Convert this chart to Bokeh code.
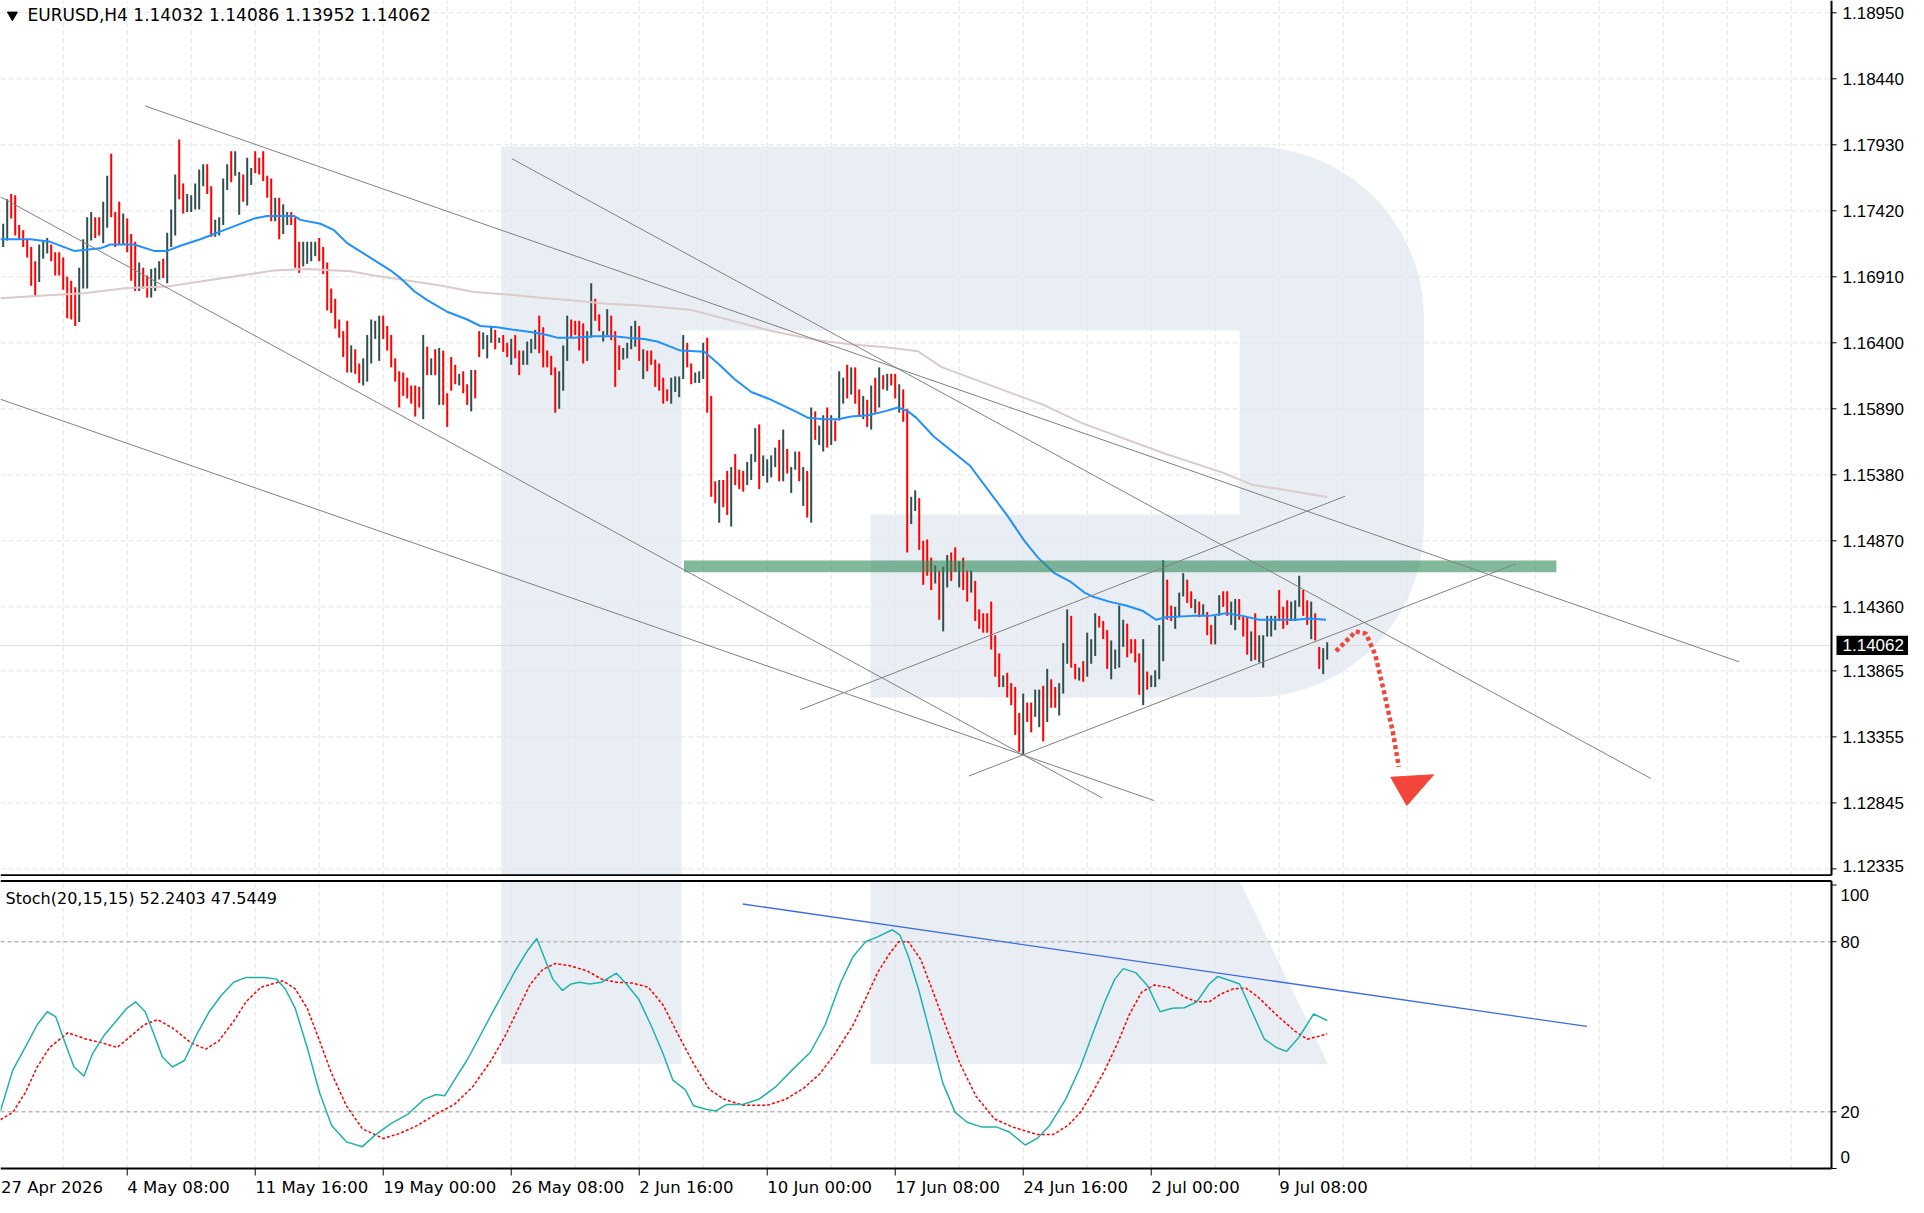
import numpy as np
from bokeh.plotting import figure
from bokeh.models import Range1d
from bokeh.layouts import column
from bokeh.embed import file_html
from bokeh.resources import INLINE
from bokeh.core.properties import value

# ---------------- data ----------------
symbol_title = "EURUSD,H4  1.14032 1.14086 1.13952 1.14062"
stoch_title = "Stoch(20,15,15) 52.2403 47.5449"
last_price = 1.14062
last_price_text = "1.14062"

bar_first = 1  # index of the first visible H4 bar (bar 0 = 27 Apr 2026 00:00)
bar_high = [
    1.1732, 1.1751, 1.1755, 1.1754, 1.1731, 1.1727, 1.1720, 1.1714, 1.1703, 1.1716,
    1.1719, 1.1721, 1.1716, 1.1710, 1.1710, 1.1706, 1.1691, 1.1688, 1.1683, 1.1698,
    1.1720, 1.1737, 1.1741, 1.1737, 1.1737, 1.1749, 1.1769, 1.1786, 1.1741, 1.1749,
    1.1740, 1.1736, 1.1724, 1.1718, 1.1702, 1.1698, 1.1692, 1.1697, 1.1698, 1.1703,
    1.1705, 1.1725, 1.1743, 1.1770, 1.1797, 1.1763, 1.1755, 1.1754, 1.1763, 1.1774,
    1.1778, 1.1778, 1.1761, 1.1735, 1.1737, 1.1767, 1.1778, 1.1788, 1.1788, 1.1772,
    1.1770, 1.1783, 1.1775, 1.1788, 1.1783, 1.1788, 1.1769, 1.1767, 1.1752, 1.1752,
    1.1747, 1.1741, 1.1741, 1.1737, 1.1718, 1.1718, 1.1718, 1.1718, 1.1718, 1.1721,
    1.1714, 1.1702, 1.1682, 1.1674, 1.1658, 1.1649, 1.1657, 1.1638, 1.1635, 1.1624,
    1.1628, 1.1646, 1.1658, 1.1657, 1.1661, 1.1661, 1.1653, 1.1646, 1.1628, 1.1618,
    1.1617, 1.1613, 1.1607, 1.1607, 1.1606, 1.1646, 1.1637, 1.1628, 1.1635, 1.1636,
    1.1634, 1.1601, 1.1629, 1.1623, 1.1616, 1.1618, 1.1608, 1.1619, 1.1619, 1.1649,
    1.1648, 1.1646, 1.1653, 1.1650, 1.1644, 1.1646, 1.1640, 1.1643, 1.1646, 1.1634,
    1.1634, 1.1641, 1.1643, 1.1650, 1.1661, 1.1652, 1.1634, 1.1630, 1.1621, 1.1618,
    1.1638, 1.1661, 1.1658, 1.1657, 1.1657, 1.1655, 1.1649, 1.1686, 1.1674, 1.1662,
    1.1649, 1.1666, 1.1661, 1.1649, 1.1638, 1.1636, 1.1640, 1.1653, 1.1657, 1.1653,
    1.1635, 1.1634, 1.1634, 1.1627, 1.1624, 1.1613, 1.1604, 1.1613, 1.1614, 1.1614,
    1.1646, 1.1640, 1.1624, 1.1617, 1.1618, 1.1640, 1.1644, 1.1599, 1.1533, 1.1534,
    1.1534, 1.1541, 1.1544, 1.1554, 1.1542, 1.1541, 1.1548, 1.1554, 1.1574, 1.1577,
    1.1553, 1.1550, 1.1553, 1.1559, 1.1565, 1.1573, 1.1558, 1.1544, 1.1556, 1.1556,
    1.1544, 1.1541, 1.1590, 1.1587, 1.1576, 1.1584, 1.1590, 1.1584, 1.1580, 1.1618,
    1.1613, 1.1623, 1.1621, 1.1621, 1.1604, 1.1599, 1.1596, 1.1607, 1.1613, 1.1621,
    1.1615, 1.1616, 1.1616, 1.1616, 1.1608, 1.1604, 1.1589, 1.1521, 1.1526, 1.1520,
    1.1487, 1.1488, 1.1474, 1.1468, 1.1464, 1.1467, 1.1476, 1.1478, 1.1482, 1.1471,
    1.1474, 1.1464, 1.1464, 1.1456, 1.1434, 1.1431, 1.1431, 1.1440, 1.1414, 1.1400,
    1.1383, 1.1385, 1.1377, 1.1374, 1.1354, 1.1369, 1.1362, 1.1362, 1.1372, 1.1372,
    1.1375, 1.1388, 1.1380, 1.1374, 1.1377, 1.1408, 1.1434, 1.1429, 1.1392, 1.1389,
    1.1394, 1.1416, 1.1411, 1.1431, 1.1429, 1.1425, 1.1418, 1.1410, 1.1403, 1.1437,
    1.1426, 1.1423, 1.1411, 1.1411, 1.1400, 1.1411, 1.1386, 1.1383, 1.1387, 1.1422,
    1.1472, 1.1457, 1.1437, 1.1436, 1.1447, 1.1462, 1.1457, 1.1448, 1.1442, 1.1440,
    1.1438, 1.1432, 1.1422, 1.1429, 1.1445, 1.1448, 1.1448, 1.1440, 1.1442, 1.1442,
    1.1429, 1.1428, 1.1417, 1.1431, 1.1414, 1.1414, 1.1429, 1.1429, 1.1429, 1.1449,
    1.1436, 1.1441, 1.1440, 1.1441, 1.1460, 1.1449, 1.1441, 1.1440, 1.1431, 1.1405,
    1.1404, 1.14086,
]
bar_low = [
    1.1714, 1.1719, 1.1736, 1.1723, 1.1720, 1.1714, 1.1706, 1.1684, 1.1676, 1.1687,
    1.1705, 1.1709, 1.1703, 1.1692, 1.1692, 1.1681, 1.1659, 1.1658, 1.1653, 1.1656,
    1.1682, 1.1682, 1.1719, 1.1721, 1.1723, 1.1717, 1.1729, 1.1737, 1.1714, 1.1716,
    1.1716, 1.1710, 1.1688, 1.1680, 1.1680, 1.1682, 1.1675, 1.1675, 1.1680, 1.1689,
    1.1690, 1.1686, 1.1714, 1.1723, 1.1751, 1.1740, 1.1741, 1.1741, 1.1743, 1.1743,
    1.1761, 1.1755, 1.1722, 1.1722, 1.1723, 1.1731, 1.1758, 1.1764, 1.1769, 1.1739,
    1.1749, 1.1746, 1.1762, 1.1771, 1.1770, 1.1765, 1.1752, 1.1734, 1.1734, 1.1720,
    1.1724, 1.1731, 1.1731, 1.1698, 1.1694, 1.1699, 1.1701, 1.1703, 1.1707, 1.1703,
    1.1693, 1.1665, 1.1663, 1.1651, 1.1644, 1.1629, 1.1617, 1.1617, 1.1616, 1.1609,
    1.1607, 1.1610, 1.1624, 1.1643, 1.1626, 1.1643, 1.1634, 1.1621, 1.1610, 1.1590,
    1.1599, 1.1597, 1.1593, 1.1583, 1.1590, 1.1581, 1.1615, 1.1615, 1.1615, 1.1592,
    1.1592, 1.1575, 1.1603, 1.1608, 1.1607, 1.1601, 1.1592, 1.1587, 1.1597, 1.1629,
    1.1635, 1.1628, 1.1640, 1.1635, 1.1640, 1.1633, 1.1629, 1.1623, 1.1628, 1.1615,
    1.1623, 1.1623, 1.1632, 1.1635, 1.1632, 1.1621, 1.1621, 1.1615, 1.1586, 1.1589,
    1.1603, 1.1626, 1.1644, 1.1646, 1.1634, 1.1624, 1.1626, 1.1644, 1.1657, 1.1649,
    1.1641, 1.1646, 1.1642, 1.1606, 1.1619, 1.1627, 1.1628, 1.1635, 1.1637, 1.1626,
    1.1612, 1.1618, 1.1623, 1.1606, 1.1603, 1.1593, 1.1595, 1.1593, 1.1602, 1.1598,
    1.1612, 1.1621, 1.1608, 1.1609, 1.1609, 1.1612, 1.1586, 1.1521, 1.1516, 1.1501,
    1.1513, 1.1507, 1.1498, 1.1530, 1.1527, 1.1525, 1.1530, 1.1534, 1.1548, 1.1527,
    1.1537, 1.1532, 1.1536, 1.1544, 1.1533, 1.1533, 1.1539, 1.1524, 1.1542, 1.1533,
    1.1514, 1.1505, 1.1501, 1.1565, 1.1561, 1.1556, 1.1559, 1.1561, 1.1564, 1.1580,
    1.1593, 1.1597, 1.1600, 1.1593, 1.1583, 1.1581, 1.1575, 1.1573, 1.1586, 1.1590,
    1.1604, 1.1603, 1.1607, 1.1597, 1.1586, 1.1579, 1.1478, 1.1500, 1.1510, 1.1480,
    1.1453, 1.1460, 1.1449, 1.1454, 1.1426, 1.1417, 1.1451, 1.1456, 1.1463, 1.1451,
    1.1449, 1.1440, 1.1447, 1.1425, 1.1419, 1.1416, 1.1416, 1.1403, 1.1382, 1.1374,
    1.1374, 1.1366, 1.1360, 1.1337, 1.1324, 1.1322, 1.1347, 1.1339, 1.1351, 1.1343,
    1.1332, 1.1347, 1.1358, 1.1358, 1.1352, 1.1369, 1.1392, 1.1389, 1.1380, 1.1379,
    1.1378, 1.1382, 1.1392, 1.1398, 1.1420, 1.1411, 1.1388, 1.1380, 1.1388, 1.1389,
    1.1405, 1.1397, 1.1400, 1.1393, 1.1368, 1.1360, 1.1372, 1.1374, 1.1374, 1.1380,
    1.1394, 1.1426, 1.1425, 1.1419, 1.1428, 1.1444, 1.1439, 1.1435, 1.1431, 1.1428,
    1.1429, 1.1414, 1.1407, 1.1407, 1.1429, 1.1436, 1.1429, 1.1422, 1.1418, 1.1426,
    1.1413, 1.1399, 1.1394, 1.1395, 1.1393, 1.1389, 1.1413, 1.1413, 1.1418, 1.1425,
    1.1419, 1.1422, 1.1425, 1.1425, 1.1436, 1.1429, 1.1422, 1.1411, 1.1410, 1.1388,
    1.1384, 1.13952,
]
# u = bullish bar, d = bearish bar
bar_dir = ("uudddddddu" "uudddddddu" "uuudduuddd" "udddudduuu" "duuudduuuu"
           "udduuuuduu" "duudddddud" "uuddduuuud" "dddddddudd" "uuuuuddddd"
           "dddddududu" "dddduddudd" "uuududdudd" "uuuudddddu" "uudddduudd"
           "uuddduuuud" "udddddduuu" "udduuudddu" "dduddduuud" "uuuududuud"
           "ududuududu" "ududdududu" "duddudduud" "ddduduuddu" "dduddddddd"
           "uddddudduu" "dudduuuddu" "duuuddduuu" "udddduduuu" "udduuuddud"
           "udduudduud" "dduduuuuud" "dduuuddudd" "uu")

# moving averages (bar index, price)
ma_fast_x = [0.3, 7.8, 12.8, 18.7, 25.3, 27.8, 33.7, 38.7, 42, 45.3, 50.3, 57, 63.7, 67, 73.7,
             75.3, 80.3, 83.7, 87, 97.8, 100.3, 103.7, 107, 112, 117, 120.3, 124.5, 128.7,
             133.7, 137, 139.5, 143.7, 148.7, 153.7, 157, 161.2, 164.5, 167.8, 170.3, 176.3,
             179.7, 183.8, 188, 192.2, 196.3, 199.7, 202.2, 206.3, 209.7, 213, 217.2, 221.3,
             224.7, 227.2, 229.3, 233.5, 242.7, 251.9, 256.3, 259.7, 263.8, 268, 271.3, 273.3,
             277.5, 281.7, 285.8, 289.2, 291.7, 298.3, 302.5, 306.7, 310.8, 315, 319.2, 324.2,
             327.5, 331.7]
ma_fast_y = [1.1720, 1.1720, 1.1718, 1.1711, 1.1713, 1.1716, 1.1716, 1.1711, 1.1711, 1.1715,
             1.1720, 1.1728, 1.1736, 1.1738, 1.1738, 1.1735, 1.1732, 1.1727, 1.1717, 1.1696,
             1.1690, 1.1680, 1.1673, 1.1664, 1.1658, 1.1653, 1.1652, 1.1650, 1.1648, 1.1646,
             1.1644, 1.1644, 1.1645, 1.1645, 1.1644, 1.1643, 1.1641, 1.1637, 1.1634, 1.1633,
             1.1624, 1.1612, 1.1602, 1.1597, 1.1591, 1.1586, 1.1582, 1.1581, 1.1581, 1.1583,
             1.1584, 1.1587, 1.1590, 1.1587, 1.1582, 1.1568, 1.1545, 1.1507, 1.1487, 1.1474,
             1.1462, 1.1455, 1.1447, 1.1444, 1.1440, 1.1437, 1.1433, 1.1426, 1.1428, 1.1429,
             1.1429, 1.1431, 1.1429, 1.1426, 1.1426, 1.1426, 1.1427, 1.1426]
ma_slow_x = [0.3, 11.2, 21.2, 32, 42, 50.3, 60.3, 68.7, 77, 87.8, 93.7, 102, 110.3, 118.7, 127,
             135.3, 143.7, 152, 160.3, 172.8, 193.3, 205, 213.3, 221.7, 229.7, 235.6, 261.1,
             270.7, 291.7, 305.7, 313.2, 332]
ma_slow_y = [1.16745, 1.16765, 1.16783, 1.16824, 1.16835, 1.16873, 1.16920, 1.16958, 1.16971,
             1.16953, 1.16920, 1.16882, 1.16843, 1.16792, 1.16773, 1.16748, 1.16727, 1.16701,
             1.16688, 1.16655, 1.16490, 1.16418, 1.16387, 1.16366, 1.16335, 1.16212, 1.15920,
             1.15779, 1.15541, 1.15399, 1.15304, 1.15209]

# stochastic (bar index, value)
stoch_main_x = [0.3, 3.4, 6.5, 9.5, 12.0, 14.1, 16.3, 18.7, 21.2, 23.3, 26.4, 29.5, 31.9, 34.1,
                36.5, 38.7, 40.8, 43.3, 46.3, 49.4, 52.5, 55.5, 58.6, 61.7, 66.3, 69.3, 71.5,
                74.0, 77.0, 80.1, 83.1, 86.8, 90.8, 93.9, 97.9, 102.2, 106.2, 109.2, 111.4,
                113.8, 116.9, 120.0, 123.0, 126.1, 129.2, 132.2, 134.4, 136.8, 138.4, 140.8,
                143.0, 145.1, 147.6, 150.6, 154.3, 156.8, 159.8, 162.9, 166.0, 168.4, 171.5,
                173.6, 176.7, 179.2, 181.9, 185.9, 189.9, 194.2, 198.2, 202.8, 206.5, 210.4,
                213.5, 216.6, 219.6, 223.3, 225.2, 227.3, 229.8, 232.8, 235.9, 239.0, 242.0,
                245.7, 249.4, 252.5, 256.5, 259.5, 262.6, 266.6, 270.3, 273.3, 276.4, 278.9,
                281.0, 284.1, 287.1, 290.2, 293.3, 296.3, 299.4, 302.5, 304.6, 307.1, 310.1,
                313.2, 316.3, 319.3, 321.8, 324.9, 328.6, 332.0]
stoch_main_y = [20.3, 34.7, 42.7, 50.7, 55.3, 53.6, 45.0, 35.8, 32.6, 40.4, 47.3, 52.5, 56.5, 58.8,
                55.3, 47.3, 39.3, 35.8, 38.1, 47.3, 55.3, 61.0, 65.7, 67.4, 67.4, 66.8, 63.4,
                56.5, 42.7, 26.7, 15.2, 9.4, 7.7, 11.7, 15.8, 19.2, 24.4, 26.1, 25.7, 31.2,
                38.1, 46.2, 54.2, 62.2, 70.2, 77.1, 81.1, 72.5, 66.8, 62.8, 65.1, 65.7, 65.1,
                65.7, 68.9, 65.1, 59.9, 50.7, 40.4, 31.2, 27.8, 22.1, 20.9, 20.3, 22.6, 22.6,
                24.4, 28.9, 34.7, 41.0, 50.7, 65.7, 74.8, 80.0, 81.7, 84.2, 82.3, 74.8, 63.4,
                47.3, 30.1, 19.8, 16.3, 14.6, 14.6, 12.9, 8.3, 10.6, 15.2, 24.4, 35.8, 47.3,
                58.8, 66.8, 70.5, 69.1, 64.5, 55.3, 56.5, 56.7, 58.8, 65.1, 67.7, 66.6, 65.1,
                55.3, 45.6, 42.7, 41.3, 46.2, 54.5, 52.2]
stoch_signal_x = [0.3, 3.4, 6.5, 9.5, 12.6, 17.2, 21.8, 25.5, 29.5, 32.5, 36.2, 39.6, 43.3, 47.9,
                  51.6, 54.9, 58.6, 61.7, 65.4, 70.9, 74.0, 77.0, 80.1, 83.1, 86.8, 90.8, 96.0,
                  100.0, 104.6, 109.2, 113.8, 118.4, 123.0, 126.7, 129.8, 132.8, 135.9, 139.0,
                  143.0, 147.0, 150.6, 154.3, 158.3, 162.3, 166.0, 169.7, 173.6, 177.6, 181.3,
                  185.9, 192.0, 196.6, 201.2, 205.2, 208.9, 213.5, 216.6, 219.6, 222.7, 224.9,
                  227.3, 230.4, 233.5, 236.5, 240.2, 244.2, 248.8, 253.4, 259.5, 263.5, 267.2,
                  270.3, 273.3, 276.4, 279.5, 282.5, 285.6, 288.7, 292.4, 296.3, 299.4, 302.5,
                  305.5, 308.6, 311.7, 314.7, 319.3, 323.9, 327.0, 330.1, 332.0]
stoch_signal_y = [17.2, 19.8, 26.7, 35.8, 42.7, 47.9, 45.6, 44.4, 42.7, 46.2, 50.7, 52.5, 49.6,
                  44.4, 42.1, 45.0, 51.9, 58.8, 63.9, 66.2, 63.4, 56.5, 45.0, 33.5, 22.1, 14.0,
                  10.6, 12.3, 15.2, 19.2, 22.6, 28.9, 38.1, 47.3, 56.5, 65.1, 70.2, 72.3, 71.4,
                  69.7, 66.8, 65.7, 65.4, 63.9, 57.6, 47.3, 37.0, 27.8, 24.4, 22.3, 22.3, 24.4,
                  28.4, 33.5, 40.4, 50.7, 59.9, 69.1, 76.0, 80.0, 80.0, 73.7, 62.2, 50.7, 37.0,
                  25.5, 17.5, 14.6, 12.0, 12.0, 15.2, 19.8, 26.7, 34.7, 43.9, 54.2, 62.2, 64.7,
                  63.9, 60.5, 58.8, 58.8, 61.6, 63.4, 63.6, 60.5, 54.2, 48.5, 45.6, 46.7, 47.5]

# axes
price_ticks = [1.18950, 1.18440, 1.17930, 1.17420, 1.16910, 1.16400, 1.15890, 1.15380,
               1.14870, 1.14360, 1.13865, 1.13355, 1.12845, 1.12335]
price_tick_labels = ["1.18950", "1.18440", "1.17930", "1.17420", "1.16910", "1.16400", "1.15890",
                     "1.15380", "1.14870", "1.14360", "1.13865", "1.13355", "1.12845", "1.12335"]
stoch_ticks = [0, 20, 80, 100]
stoch_tick_labels = ["0", "20", "80", "100"]
stoch_levels = [20, 80]
date_ticks = [0, 32, 64, 96, 128, 160, 192, 224, 256, 288, 320]
date_labels = ["27 Apr 2026", "4 May 08:00", "11 May 16:00", "19 May 00:00", "26 May 08:00",
               "2 Jun 16:00", "10 Jun 00:00", "17 Jun 08:00", "24 Jun 16:00", "2 Jul 00:00",
               "9 Jul 08:00"]
grid_bars = list(range(16, 458, 16))

# drawn objects: trend lines (bar index, price)
trend_x0 = [36.5, 128.2, 0.3, 0.3, 242.4, 200.3]
trend_y0 = [1.18230, 1.17822, 1.17528, 1.15964, 1.13053, 1.13565]
trend_x1 = [435.0, 412.9, 275.8, 288.7, 379.2, 336.5]
trend_y1 = [1.13935, 1.13034, 1.12882, 1.12863, 1.14693, 1.15215]
stoch_trend_x = [185.9, 396.9]
stoch_trend_y = [93.3, 50.1]
zone_left, zone_right = 171.2, 389.3
zone_bottom, zone_top = 1.14628, 1.14718
arrow_x = [334.2, 339.1, 341.7, 344.0, 346.1, 348.4, 349.9]
arrow_y = [1.14017, 1.14169, 1.14153, 1.13990, 1.13718, 1.13393, 1.13123]
arrow_head_x = [347.9, 358.6, 351.9]
arrow_head_y = [1.13043, 1.13062, 1.12825]

# ---------------- layout / styling ----------------
FONT = value("DejaVu Sans")
AX_FONT = value("Liberation Sans")
FS = "17px"
FS_DATE = "16.5px"
FS_AX = "17px"
BULL = "#2F4F4F"
BEAR = "#FF0000"
WM = "#E9EEF5"
GRID = "#E4E4E4"
W = 1908                       # figure width (px); 4 px per bar
X0 = 0.325                     # bar position at left edge
X1 = X0 + W / 4.0
AX = X0 + 1831 / 4.0           # bar position of the price/stoch axis line
TICK = 5 / 4.0                 # axis tick length (bars)
LBL_X = X0 + 1842 / 4.0        # price label start
SLBL_X = X0 + 1840 / 4.0       # stoch label start
PPX = 0.00007727               # price per pixel
P_TOP = 1.19045
MAIN_H = 876
P_BOT = P_TOP - MAIN_H * PPX
P_LINE = P_TOP - 874.8 * PPX   # bottom border of main pane
P_LBL_MIN = P_TOP - 865 * PPX  # lowest label centre that still fits in the pane

xr = Range1d(X0, X1)


def bare(fig):
    fig.grid.grid_line_color = None
    fig.outline_line_color = None
    fig.min_border_left = fig.min_border_right = 0
    fig.min_border_top = fig.min_border_bottom = 0
    fig.background_fill_color = "white"
    fig.border_fill_color = "white"


main = figure(frame_width=W, frame_height=MAIN_H, x_range=xr, y_range=Range1d(P_BOT, P_TOP),
              output_backend="svg", toolbar_location=None,
              x_axis_location=None, y_axis_location=None)
bare(main)

# watermark logo (background decoration)
rk, rp = 42.9, 0.01327
t1 = np.linspace(np.pi / 2, 0, 16)
t2 = np.linspace(0, -np.pi / 2, 16)
wx = [125.5, 125.5] + list(313.3 + rk * np.cos(t1)) + list(313.3 + rk * np.cos(t2)) + \
     [217.8, 217.8, 310.1, 310.1, 170.6, 170.6]
wy = [P_LINE, 1.17917] + list(1.16590 + rp * np.sin(t1)) + list(1.14987 + rp * np.sin(t2)) + \
     [1.13660, 1.15073, 1.15073, 1.16495, 1.16495, P_LINE]
main.patch(wx, wy, fill_color=WM, line_color=None)

# grid
main.segment(x0=[X0] * len(price_ticks), y0=price_ticks, x1=[AX] * len(price_ticks),
             y1=price_ticks, line_color=GRID, line_dash="5 3", line_width=1)
main.segment(x0=grid_bars, y0=[P_LINE] * len(grid_bars), x1=grid_bars,
             y1=[P_TOP] * len(grid_bars), line_color=GRID, line_dash="5 3", line_width=1)

# bid line
main.segment(x0=[X0], y0=[last_price], x1=[AX], y1=[last_price], line_color="#DADADA",
             line_width=1)

# bars
colors = [BULL if d == "u" else BEAR for d in bar_dir[:len(bar_high)]]
colors += [BULL] * (len(bar_high) - len(colors))
bars = dict(x=list(range(bar_first, bar_first + len(bar_high))), high=bar_high, low=bar_low,
            color=colors)
main.segment(x0="x", y0="low", x1="x", y1="high", line_color="color", line_width=2,
             line_cap="butt", source=bars)

# moving averages
main.line(ma_slow_x, ma_slow_y, line_color="#DCC9C9", line_width=2)
main.line(ma_fast_x, ma_fast_y, line_color="#1E90FF", line_width=2)

# zone
main.quad(left=[zone_left], right=[zone_right], bottom=[zone_bottom], top=[zone_top],
          fill_color="#2E8B57", fill_alpha=0.6, line_color=None)

# trend lines
main.segment(x0=trend_x0, y0=trend_y0, x1=trend_x1, y1=trend_y1,
             line_color="#808080", line_width=1)

# forecast arrow
main.line(arrow_x, arrow_y, line_color="#F2463B", line_width=4.5, line_dash="4 3",
          line_cap="butt")
main.patch(arrow_head_x, arrow_head_y, fill_color="#F2463B", line_color="#F2463B")

# header
main.scatter([3.3], [P_TOP - 14.5 * PPX], marker="inverted_triangle", size=10, color="black")
main.text(x=[7.1], y=[P_TOP - 14.5 * PPX], text=[symbol_title], text_font=FONT,
          text_font_size=FS, text_color="black", text_baseline="middle", text_align="left")

# price axis
main.segment(x0=[X0], y0=[P_LINE], x1=[AX], y1=[P_LINE], line_color="black", line_width=2)
main.segment(x0=[AX], y0=[P_LINE], x1=[AX], y1=[P_TOP], line_color="black", line_width=2)
main.segment(x0=[AX] * len(price_ticks), y0=price_ticks, x1=[AX + TICK] * len(price_ticks),
             y1=price_ticks, line_color="black", line_width=1)
p_lbl_y = [max(t, P_LBL_MIN) for t in price_ticks]
main.text(x=[LBL_X] * len(price_ticks), y=p_lbl_y, text=price_tick_labels, text_font=AX_FONT,
          text_font_size=FS_AX, text_color="black", text_baseline="middle", text_align="left")
main.quad(left=[X0 + 1836 / 4.0], right=[X1], bottom=[last_price - 9.6 * PPX],
          top=[last_price + 9.6 * PPX], fill_color="black", line_color=None)
main.text(x=[LBL_X], y=[last_price], text=[last_price_text], text_font=AX_FONT,
          text_font_size=FS_AX, text_color="white", text_baseline="middle", text_align="left")

# ---------------- stochastic panel ----------------
S_H = 321
S_PX = 2.835                   # px per stoch unit
S_TOP = 100 + 8.5 / S_PX       # value at top edge of this figure
S_BOT = S_TOP - S_H / S_PX
S_LINE_TOP = 100 + 4.0 / S_PX  # top border of stoch pane
S_TICK_END = -7.0 / S_PX
S_LBL_Y = -18.5 / S_PX

stoch = figure(frame_width=W, frame_height=S_H, x_range=xr, y_range=Range1d(S_BOT, S_TOP),
               output_backend="svg", toolbar_location=None,
               x_axis_location=None, y_axis_location=None)
bare(stoch)

stoch.patch([125.5, 170.6, 170.6, 125.5], [36.9, 36.9, S_LINE_TOP, S_LINE_TOP], fill_color=WM,
            line_color=None)
stoch.patch([217.8, 310.1, 332.2, 217.8], [S_LINE_TOP, S_LINE_TOP, 36.9, 36.9], fill_color=WM,
            line_color=None)

stoch.segment(x0=grid_bars, y0=[0] * len(grid_bars), x1=grid_bars,
              y1=[S_LINE_TOP] * len(grid_bars), line_color=GRID, line_dash="5 3", line_width=1)
stoch.segment(x0=[X0] * len(stoch_levels), y0=stoch_levels, x1=[AX] * len(stoch_levels),
              y1=stoch_levels, line_color="#B8B8B8", line_dash="4 3", line_width=1.5)

stoch.line(stoch_signal_x, stoch_signal_y, line_color="#FF0000", line_width=1.5,
           line_dash="3 2")
stoch.line(stoch_main_x, stoch_main_y, line_color="#20B2AA", line_width=1.5)
stoch.line(stoch_trend_x, stoch_trend_y, line_color="#3D6BE0", line_width=1.3)

stoch.text(x=[1.6], y=[100 - 13.5 / S_PX], text=[stoch_title], text_font=FONT,
           text_font_size="16px", text_color="black", text_baseline="middle",
           text_align="left")

# frame lines
stoch.segment(x0=[X0, X0], y0=[S_LINE_TOP, 0], x1=[AX, AX], y1=[S_LINE_TOP, 0],
              line_color="black", line_width=2)
stoch.segment(x0=[AX], y0=[0], x1=[AX], y1=[S_LINE_TOP], line_color="black", line_width=2)

# stoch value axis (end labels kept inside the pane, as in the terminal)
stoch.segment(x0=[AX] * len(stoch_ticks), y0=stoch_ticks, x1=[AX + TICK] * len(stoch_ticks),
              y1=stoch_ticks, line_color="black", line_width=1)
s_lbl_y = [min(max(t, 4.0), 96.6) for t in stoch_ticks]
stoch.text(x=[SLBL_X] * len(stoch_ticks), y=s_lbl_y, text=stoch_tick_labels,
           text_font=AX_FONT, text_font_size=FS_AX, text_color="black",
           text_baseline="middle", text_align="left")

# time axis
d_x = [max(t, X0 + 0.1) for t in date_ticks]
stoch.segment(x0=date_ticks, y0=[0] * len(date_ticks), x1=date_ticks,
              y1=[S_TICK_END] * len(date_ticks), line_color="black", line_width=1)
stoch.text(x=d_x, y=[S_LBL_Y] * len(d_x), text=date_labels, text_font=FONT,
           text_font_size=FS_DATE, text_color="black", text_baseline="middle",
           text_align="left")

layout = column(main, stoch, spacing=0)
open("out.html", "w").write(file_html(layout, INLINE))
